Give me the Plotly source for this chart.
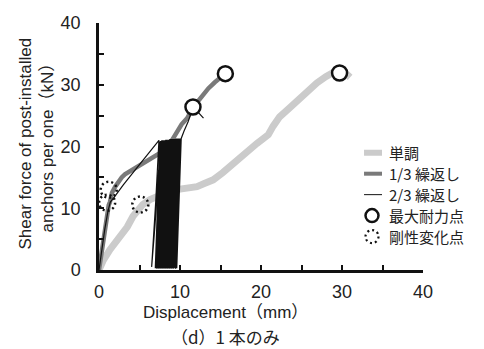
import plotly.graph_objects as go

# ---- data ----
mono_x = [0, 0.5, 1.35, 2.0, 2.6, 3.5, 4.2, 5.4, 6.3, 7.2, 8.5, 10.0, 11.0, 12.1, 13.0, 14.1,
          15.3, 16.3, 17.3, 18.5, 19.5, 20.3, 20.9, 21.5, 22.3, 23.5, 24.5, 25.7, 26.9, 28.0, 28.8, 29.7, 30.5, 31.0]
mono_y = [0, 1.5, 3.3, 4.4, 5.4, 7.0, 8.7, 10.6, 11.4, 11.9, 12.6, 13.1, 13.3, 13.5, 14.0, 14.6,
          15.8, 17.0, 18.0, 19.3, 20.5, 21.3, 21.9, 23.3, 24.8, 26.2, 27.5, 29.0, 30.3, 31.3, 31.9, 32.2, 31.8, 31.2]

c13_x = [0, 0.3, 0.6, 0.9, 1.2, 1.35, 1.6, 2.0, 2.4, 2.8, 3.2, 3.6, 4.2, 5.0, 5.7, 6.3, 6.9, 7.6, 8.3,
         9.0, 10.2, 10.9, 11.6, 12.2, 12.8, 13.5, 14.3, 15.0, 15.6, 16.0]
c13_y = [0, 2.5, 5.5, 8.5, 10.5, 11.0, 12.5, 13.5, 14.3, 15.0, 15.5, 15.8, 16.4, 17.0, 17.4, 17.9,
         18.4, 19.0, 20.0, 21.0, 23.6, 24.6, 26.3, 27.3, 28.3, 29.4, 30.4, 31.2, 31.8, 30.8]

# 2/3 cyclic: first loading branch and first unload/reload loop
c23_pre_x = [0, 0.3, 0.7, 1.1, 1.4, 2.0, 3.0, 4.4, 5.5, 6.5, 7.4, 7.0, 6.7, 6.5, 6.9, 7.3, 7.6]
c23_pre_y = [0, 3.0, 6.5, 9.5, 11.0, 12.0, 13.8, 16.1, 17.9, 19.5, 21.0, 11.0, 3.5, 0.5, 7.0, 14.0, 20.8]
# repeated cycles (valley / peak displacements and loads)
valley_x = [6.95, 7.05, 7.15, 7.2, 7.3, 7.4, 7.45, 7.55, 7.65, 7.7, 7.8, 7.9, 7.95, 8.05, 8.15,
            8.2, 8.3, 8.4, 8.45, 8.55, 8.65, 8.7, 8.8, 8.9, 8.95, 9.05, 9.15, 9.2, 9.3, 9.45, 9.6]
valley_y = [0.3, 0.3, 0.2, 0.3, 0.3, 0.2, 0.3, 0.3, 0.2, 0.3, 0.3, 0.2, 0.3, 0.3, 0.2,
            0.3, 0.3, 0.2, 0.3, 0.3, 0.2, 0.3, 0.3, 0.2, 0.3, 0.3, 0.2, 0.3, 0.3, 0.2, 0.3]
peak_x = [7.5, 7.6, 7.7, 7.75, 7.85, 7.95, 8.0, 8.1, 8.2, 8.25, 8.35, 8.45, 8.5, 8.6, 8.7,
          8.75, 8.85, 8.95, 9.0, 9.1, 9.2, 9.25, 9.35, 9.45, 9.5, 9.6, 9.7, 9.75, 9.85, 10.0, 10.15]
peak_y = [20.8, 20.9, 20.9, 21.0, 21.0, 21.0, 21.0, 21.0, 21.1, 21.1, 21.1, 21.1, 21.1, 21.1, 21.1,
          21.2, 21.2, 21.2, 21.2, 21.2, 21.2, 21.2, 21.2, 21.3, 21.3, 21.3, 21.3, 21.3, 21.3, 21.3, 21.3]
c23_post_x = [10.5, 11.0, 11.6, 12.2, 12.9]
c23_post_y = [22.5, 24.0, 26.3, 25.6, 24.6]

max_x = [11.6, 15.6, 29.7]
max_y = [26.4, 31.8, 31.9]

stiff_x = [1.2, 1.0, 5.1]
stiff_y = [13.0, 10.9, 10.6]

x_ticks = [0, 10, 20, 30, 40]
y_ticks = [0, 10, 20, 30, 40]

legend_names = ["単調", "1/3 繰返し", "2/3 繰返し", "最大耐力点", "剛性変化点"]

# ---- build 2/3 path from the lists ----
c23_x = list(c23_pre_x)
c23_y = list(c23_pre_y)
for vx, vy, px, py in zip(valley_x, valley_y, peak_x, peak_y):
    c23_x += [vx, px]
    c23_y += [vy, py]
c23_x += c23_post_x
c23_y += c23_post_y

FONT = "Liberation Sans, Arial, Noto Sans CJK JP, sans-serif"
JFONT = "Noto Sans CJK JP, Liberation Sans, sans-serif"
INK = "#111111"
TXT = "#222222"
MONO_C = "#cbcbcb"
C13_C = "#7a7a7a"
DOT_DASH = "2px,3px"

fig = go.Figure()
fig.add_trace(go.Scatter(x=mono_x, y=mono_y, mode="lines", name=legend_names[0],
                         line=dict(color=MONO_C, width=7), showlegend=False))
fig.add_trace(go.Scatter(x=c13_x, y=c13_y, mode="lines", name=legend_names[1],
                         line=dict(color=C13_C, width=4.5), showlegend=False))
fig.add_trace(go.Scatter(x=c23_x, y=c23_y, mode="lines", name=legend_names[2],
                         line=dict(color=INK, width=1.2), showlegend=False))
fig.add_trace(go.Scatter(x=max_x, y=max_y, mode="markers", name=legend_names[3],
                         marker=dict(symbol="circle", size=15, color="white",
                                     line=dict(color=INK, width=2.5)),
                         showlegend=False))

for sx, sy in zip(stiff_x, stiff_y):
    fig.add_shape(type="circle", xref="x", yref="y", xsizemode="pixel", ysizemode="pixel",
                  xanchor=sx, yanchor=sy, x0=-8, x1=8, y0=-8, y1=8,
                  line=dict(color=INK, width=2.5, dash=DOT_DASH),
                  fillcolor="rgba(0,0,0,0)", name=legend_names[4])

# ---- legend (drawn as shapes + text in paper space) ----
PLOT_H = 349 - 23 - 78.5
LEG_TOP_PX = 153.0     # centre of first legend row, px from top
LEG_STEP_PX = 21.0     # row pitch
def row_paper_y(i):
    return (349 - 78.5 - (LEG_TOP_PX + i * LEG_STEP_PX)) / PLOT_H
leg_y = [row_paper_y(i) for i in range(len(legend_names))]
sym_x0, sym_x1, sym_xc, txt_x = 0.818, 0.8735, 0.8426, 0.892
fig.add_shape(type="line", xref="paper", yref="paper", x0=sym_x0, x1=sym_x1,
              y0=leg_y[0], y1=leg_y[0], line=dict(color=MONO_C, width=6))
fig.add_shape(type="line", xref="paper", yref="paper", x0=sym_x0, x1=sym_x1,
              y0=leg_y[1], y1=leg_y[1], line=dict(color=C13_C, width=4))
fig.add_shape(type="line", xref="paper", yref="paper", x0=sym_x0, x1=sym_x1,
              y0=leg_y[2], y1=leg_y[2], line=dict(color=INK, width=1))
fig.add_shape(type="circle", xref="paper", yref="paper", xsizemode="pixel", ysizemode="pixel",
              xanchor=sym_xc, yanchor=leg_y[3], x0=-6.5, x1=6.5, y0=-6.5, y1=6.5,
              line=dict(color=INK, width=2.5), fillcolor="white")
fig.add_shape(type="circle", xref="paper", yref="paper", xsizemode="pixel", ysizemode="pixel",
              xanchor=sym_xc, yanchor=leg_y[4], x0=-6.5, x1=6.5, y0=-6.5, y1=6.5,
              line=dict(color=INK, width=2.2, dash=DOT_DASH), fillcolor="rgba(0,0,0,0)")
for name, ly in zip(legend_names, leg_y):
    fig.add_annotation(text=name, xref="paper", yref="paper", x=txt_x, y=ly,
                       xanchor="left", yanchor="middle", showarrow=False, borderpad=0,
                       font=dict(family=JFONT, size=15, color=TXT))

fig.update_layout(
    width=484, height=349,
    margin=dict(l=99, r=61, t=23, b=78.5),
    paper_bgcolor="white", plot_bgcolor="white",
    font=dict(family=FONT, size=17, color=TXT),
    showlegend=False,
    xaxis=dict(range=[0, 40], tickvals=x_ticks, ticktext=[str(v) for v in x_ticks],
               showgrid=False, zeroline=False, showline=True, linecolor=INK, linewidth=2.5,
               ticks="inside", ticklen=5, tickwidth=1.5, tickcolor=INK,
               minor=dict(dtick=5, ticks="inside", ticklen=5, tickwidth=1.5, tickcolor=INK),
               tickfont=dict(size=18), ticklabelstandoff=4),
    yaxis=dict(range=[0, 40], tickvals=y_ticks, ticktext=[str(v) for v in y_ticks],
               showgrid=False, zeroline=False, showline=True, linecolor=INK, linewidth=2.5,
               ticks="inside", ticklen=5, tickwidth=1.5, tickcolor=INK,
               minor=dict(dtick=5, ticks="inside", ticklen=5, tickwidth=1.5, tickcolor=INK),
               tickfont=dict(size=18), ticklabelstandoff=12),
)

fig.add_annotation(text="Shear force of post-installed<br>anchors per one（kN）",
                   xref="paper", yref="paper", x=0, y=0.5, xshift=-63, yshift=3,
                   xanchor="center", yanchor="middle", textangle=-90, showarrow=False,
                   font=dict(family=FONT, size=17, color=TXT))
fig.add_annotation(text="Displacement（mm）", xref="paper", yref="paper",
                   x=0.39, y=0, yshift=-42, xanchor="center", yanchor="middle",
                   showarrow=False, font=dict(family=FONT, size=17, color=TXT))
fig.add_annotation(text="（d）1 本のみ", xref="paper", yref="paper",
                   x=0.389, y=0, yshift=-66, xanchor="center", yanchor="middle",
                   showarrow=False, font=dict(family=JFONT, size=17, color=TXT))

fig.write_html("out.html")
